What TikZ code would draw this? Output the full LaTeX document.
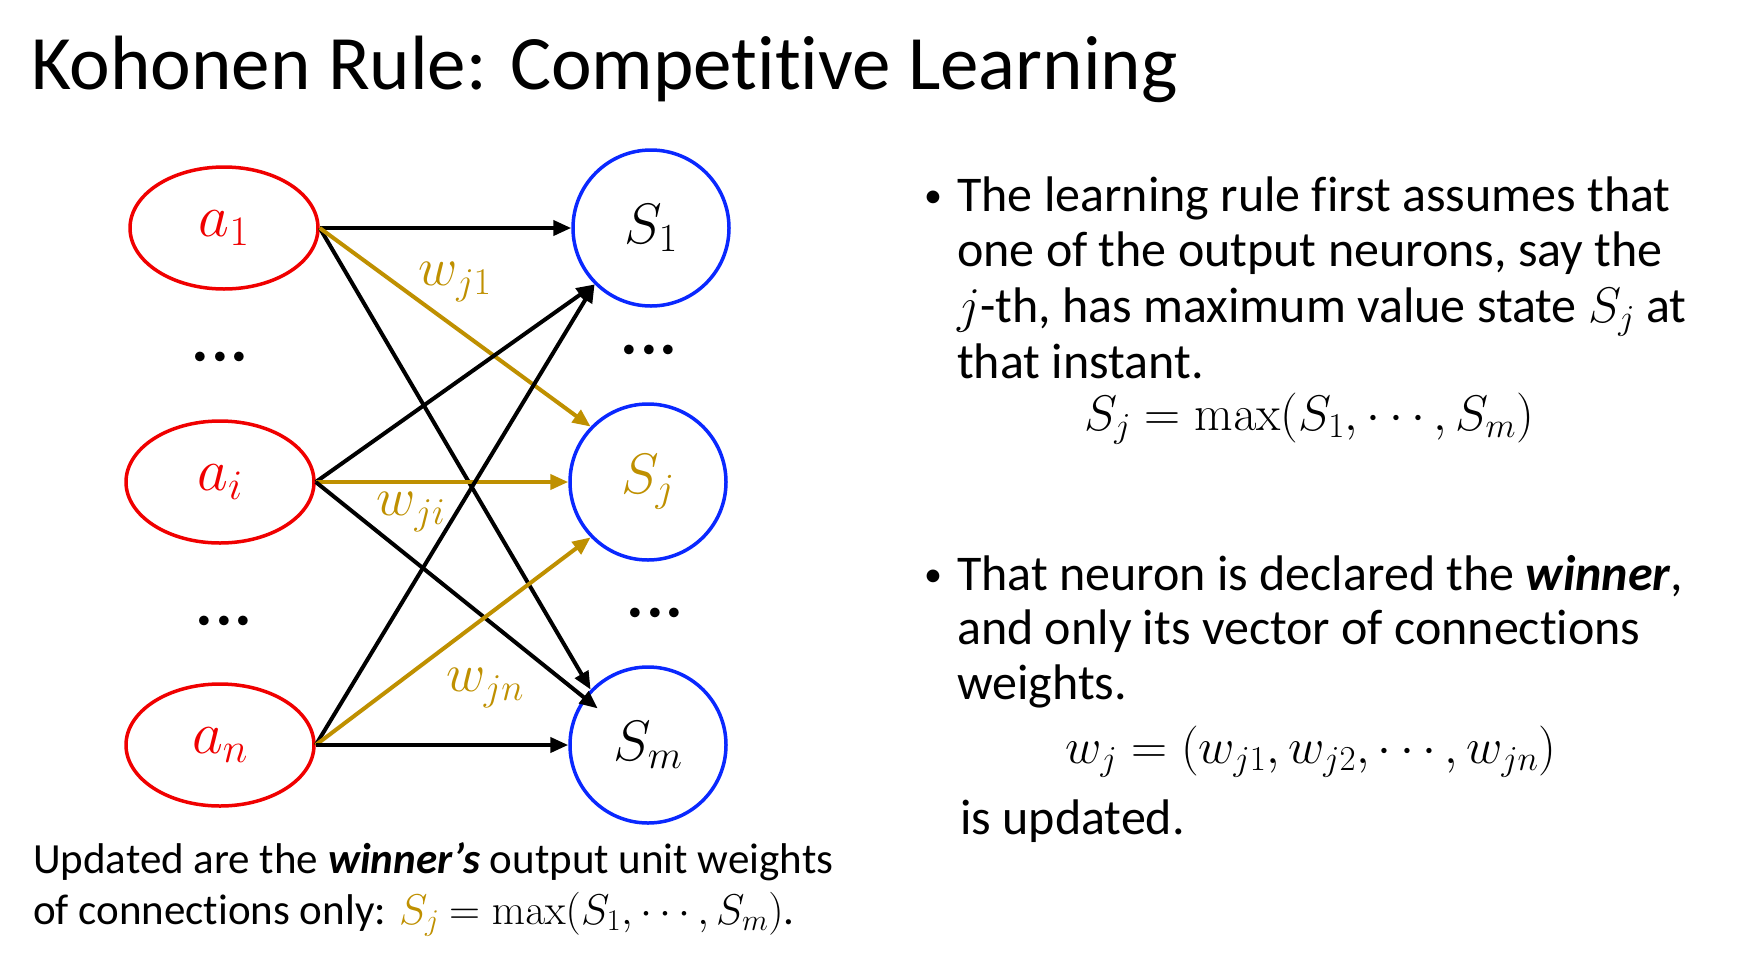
\RequirePackage{fix-cm}
\documentclass[tikz,border=0pt]{standalone}
\usepackage[no-math]{fontspec}
\setmainfont{Carlito}[Ligatures=NoCommon]
\usetikzlibrary{shapes.geometric,arrows.meta,calc}
\definecolor{gold}{RGB}{191,144,0}
\definecolor{nred}{RGB}{240,0,0}
\definecolor{nblue}{RGB}{10,40,255}
\newcommand{\tdots}{{\cdot}{\cdot}{\cdot}}
\begin{document}
\begin{tikzpicture}[x=1pt,y=-1pt,
  inp/.style={ellipse, draw=nred, line width=3.5pt, minimum width=188pt, minimum height=122pt, inner sep=0pt, text=nred, font=\fontsize{60}{66}\selectfont},
  outp/.style={circle, draw=nblue, line width=3.5pt, minimum size=156pt, inner sep=0pt, font=\fontsize{57}{64}\selectfont},
  conn/.style={line width=4pt, -{Triangle[length=18pt,width=15pt]}},
  gconn/.style={conn, draw=gold},
  wlab/.style={text=gold, inner sep=0pt, font=\fontsize{54}{60}\selectfont},
  dotsl/.style={inner sep=0pt, font=\fontsize{62}{66}\selectfont\boldmath},
  body/.style={anchor=base west, inner sep=0pt, font=\fontsize{50}{56}\selectfont},
  bul/.style={anchor=base west, inner sep=0pt, font=\fontsize{36}{40}\selectfont},
  eqn/.style={anchor=base, inner sep=0pt, font=\fontsize{50}{56}\selectfont},
  foot/.style={anchor=base west, inner sep=0pt, font=\fontsize{43}{50}\selectfont},
  titlef/.style={anchor=base west, inner sep=0pt, font=\fontsize{77}{90}\selectfont}
]
\useasboundingbox (0,0) rectangle (1740,954);
\fill[white] (0,0) rectangle (1740,954);

\node[titlef] (title) at (31,89) {Kohonen Rule: Competitive Learning};

% input nodes
\node[inp] (a1) at (224,228) {$a_1$};
\node[inp] (ai) at (220,482) {$a_i$};
\node[inp] (an) at (220,745) {$a_n$};
% output nodes
\node[outp] (S1) at (651,228) {$S_1$};
\node[outp, text=gold] (Sj) at (648,482) {$S_j$};
\node[outp] (Sm) at (648,745) {$S_m$};

% dots
\node[dotsl] (d1) at (220,358) {$\tdots$};
\node[dotsl] (d2) at (224,622) {$\tdots$};
\node[dotsl] (d3) at (649,351) {$\tdots$};
\node[dotsl] (d4) at (655,614) {$\tdots$};

% connectors
\draw[conn] (a1.east) -- (S1.west);
\draw[conn] (a1.east) -- (Sm.136);
\draw[gconn] (a1.east) -- (Sj.136);
\draw[conn] (ai.east) -- (S1.225);
\draw[gconn] (ai.east) -- (Sj.west);
\draw[conn] (ai.east) -- ($(Sm.center)!0.78!(Sm.144)$);
\draw[conn] (an.east) -- (S1.225);
\draw[gconn] (an.east) -- (Sj.224);
\draw[conn] (an.east) -- (Sm.west);

% weight labels
\node[wlab] (w1) at (455,282) {$w_{j1}$};
\node[wlab] (wi) at (411,512) {$w_{ji}$};
\node[wlab] (wn) at (485,688) {$w_{jn}$};

% right text
\node[bul] (b1) at (924,207) {•};
\node[body] (l1) at (957,211) {The learning rule first assumes that};
\node[body] (l2) at (957,266) {one of the output neurons, say the};
\node[body] (l3) at (957,322) {$j$-th, has maximum value state $S_j$ at};
\node[body] (l4) at (957,378) {that instant.};
\node[eqn] (e1) at (1309,430) {$S_j = \max(S_1,\cdots,S_m)$};

\node[bul] (b2) at (924,586) {•};
\node[body] (m1) at (957,590) {That neuron is declared the \textbf{\textit{winner}},};
\node[body] (m2) at (957,644) {and only its vector of connections};
\node[body] (m3) at (957,699) {weights.};
\node[eqn] (e2) at (1311,763) {$w_j = \Bigl(w_{j1},w_{j2},\cdots,w_{jn}\Bigr)$};
\node[body] (m4) at (960,834) {is updated.};

% bottom text
\node[foot] (u1) at (33,873) {Updated are the \textbf{\textit{winner’s}} output unit weights};
\node[foot] (u2) at (33,924) {of connections only: $\color{gold}S_j$ $= \max(S_1,\cdots,S_m)$.};
\end{tikzpicture}
\end{document}
